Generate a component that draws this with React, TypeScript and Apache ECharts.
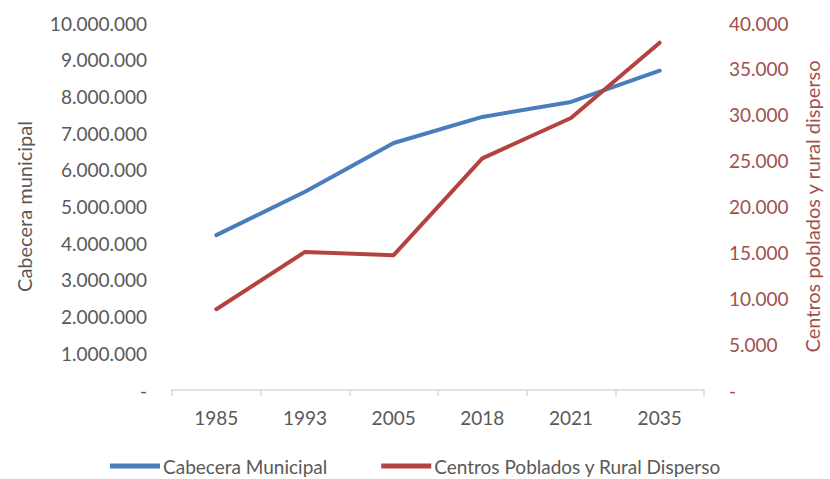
import React, { useEffect, useRef } from "react";
import * as echarts from "echarts";

const years = ["1985", "1993", "2005", "2018", "2021", "2035"];
const cabeceraMunicipal = [4220000, 5400000, 6730000, 7440000, 7850000, 8700000];
const centrosPoblados = [8800, 15050, 14700, 25250, 29650, 37850];
const seriesNames = ["Cabecera Municipal", "Centros Poblados y Rural Disperso"];
const leftAxisTitle = "Cabecera municipal";
const rightAxisTitle = "Centros poblados y rural disperso";

const fmt = (v: number) => {
  if (v === 0) return "-";
  return String(Math.round(v)).replace(/\B(?=(\d{3})+(?!\d))/g, ".");
};

const FONT = "Lato";
const GRAY = "#595959";
const RED_TXT = "#a0514e";

export default function App() {
  const ref = useRef<HTMLDivElement>(null);
  useEffect(() => {
    document.body.style.margin = "0";
    if (!ref.current) return;
    const chart = echarts.init(ref.current, undefined, { renderer: "svg" });
    chart.setOption({
      animation: false,
      backgroundColor: "#ffffff",
      textStyle: { fontFamily: FONT },
      grid: { left: 172, right: 126, top: 23, bottom: 89, containLabel: false },
      legend: {
        top: 456,
        left: 110,
        padding: 0,
        itemWidth: 50,
        itemHeight: 5,
        itemGap: 54,
        icon: "rect",
        textStyle: { fontFamily: FONT, fontSize: 19, lineHeight: 20, color: GRAY, padding: [0, 0, 0, -2] },
        data: seriesNames,
      },
      xAxis: {
        type: "category",
        data: years,
        boundaryGap: true,
        axisLine: { show: true, lineStyle: { color: "#d9d9d9", width: 1.5 } },
        axisTick: { show: true, length: 6, lineStyle: { color: "#d9d9d9", width: 1.5 } },
        axisLabel: { color: GRAY, fontSize: 19, fontFamily: FONT, margin: 18 },
        splitLine: { show: false },
      },
      yAxis: [
        {
          type: "value",
          min: 0,
          max: 10000000,
          interval: 1000000,
          name: leftAxisTitle,
          nameLocation: "middle",
          nameRotate: 90,
          nameGap: 138,
          nameTextStyle: { color: GRAY, fontSize: 20, fontFamily: FONT },
          axisLine: { show: false },
          axisTick: { show: false },
          splitLine: { show: false },
          axisLabel: { color: GRAY, fontSize: 19, fontFamily: FONT, margin: 25, formatter: fmt },
        },
        {
          type: "value",
          min: 0,
          max: 40000,
          interval: 5000,
          position: "right",
          name: rightAxisTitle,
          nameLocation: "middle",
          nameRotate: 90,
          nameGap: 98,
          nameTextStyle: { color: RED_TXT, fontSize: 20, fontFamily: FONT },
          axisLine: { show: false },
          axisTick: { show: false },
          splitLine: { show: false },
          axisLabel: { color: RED_TXT, fontSize: 19, fontFamily: FONT, margin: 25, formatter: fmt },
        },
      ],
      series: [
        {
          name: seriesNames[0],
          type: "line",
          data: cabeceraMunicipal,
          yAxisIndex: 0,
          symbol: "none",
          color: "#4a7dbb",
          lineStyle: { width: 4, color: "#4a7dbb", cap: "round", join: "round" },
        },
        {
          name: seriesNames[1],
          type: "line",
          data: centrosPoblados,
          yAxisIndex: 1,
          symbol: "none",
          color: "#b4433f",
          lineStyle: { width: 4, color: "#b4433f", cap: "round", join: "round" },
        },
      ],
    });
    return () => chart.dispose();
  }, []);
  return <div ref={ref} style={{ width: 830, height: 479 }} />;
}
